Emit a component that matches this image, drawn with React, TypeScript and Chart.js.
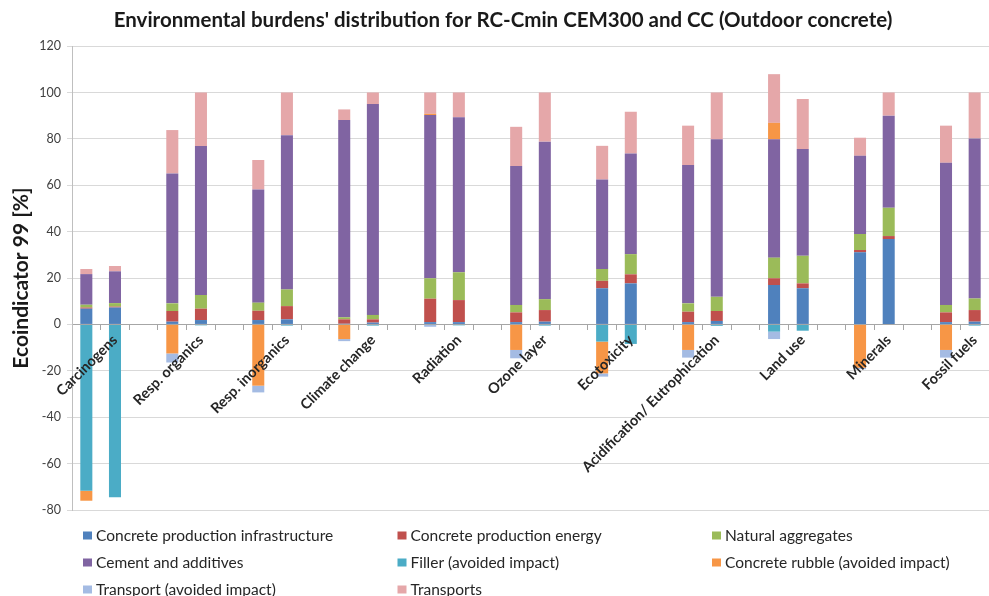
import React, { useEffect, useRef } from 'react';
import { Chart, registerables } from 'chart.js';

Chart.register(...registerables);

const chartTitle = "Environmental burdens' distribution for RC-Cmin CEM300 and CC (Outdoor concrete)";
const yAxisTitle = 'Ecoindicator 99 [%]';

const categories = [
  'Carcinogens',
  'Resp. organics',
  'Resp. inorganics',
  'Climate change',
  'Radiation',
  'Ozone layer',
  'Ecotoxicity',
  'Acidification/ Eutrophication',
  'Land use',
  'Minerals',
  'Fossil fuels',
];

const seriesNames = [
  'Concrete production infrastructure',
  'Concrete production energy',
  'Natural aggregates',
  'Cement and additives',
  'Filler (avoided impact)',
  'Concrete rubble (avoided impact)',
  'Transport (avoided impact)',
  'Transports',
];

const seriesColors = ['#4F81BD', '#C0504D', '#9BBB59', '#8064A2', '#4BACC6', '#F79646', '#A4BBE3', '#E5A7A9'];

// First bar of each pair: RC-Cmin CEM300, second bar: CC
const infraRC = [6.8, 1.2, 1.9, 0.3, 1.0, 1.0, 15.6, 1.0, 17.0, 31.1, 1.0];
const infraCC = [7.3, 1.9, 2.2, 0.8, 1.0, 1.2, 17.7, 1.5, 15.6, 36.8, 1.2];
const energyRC = [0.5, 4.6, 4.0, 1.9, 10.1, 4.2, 3.2, 4.5, 2.9, 1.0, 4.2];
const energyCC = [0.4, 4.9, 5.7, 1.4, 9.5, 5.0, 3.9, 4.3, 2.1, 1.3, 5.0];
const aggregatesRC = [1.2, 3.3, 3.5, 0.9, 8.8, 3.2, 5.1, 3.6, 8.9, 6.9, 3.2];
const aggregatesCC = [1.5, 5.9, 7.2, 1.9, 12.0, 4.7, 8.7, 6.1, 11.9, 12.2, 5.0];
const cementRC = [13.2, 56.0, 48.8, 85.0, 70.4, 59.9, 38.6, 59.6, 51.0, 33.7, 61.3];
const cementCC = [13.7, 64.2, 66.5, 90.9, 66.8, 67.9, 43.4, 67.9, 46.0, 39.7, 69.0];
const fillerRC = [-71.7, 0, 0, 0, 0, 0, -7.4, 0, -3.1, 0, 0];
const fillerCC = [-74.5, -0.4, -0.5, -0.5, -0.4, -0.5, -8.4, -0.6, -2.7, 0, -0.5];
const rubbleRC = [-4.3, -12.5, -26.4, -6.3, 0.5, -11.0, -13.7, -11.0, 7.1, -18.7, -11.0];
const rubbleCC = [0, 0, 0, 0, 0, 0, 0, 0, 0, 0, 0];
const transportAvoidedRC = [0, -3.9, -2.9, -0.9, -1.0, -3.6, -1.4, -3.3, -3.2, -0.6, -3.3];
const transportAvoidedCC = [0, 0, 0, 0, 0, 0, 0, 0, 0, 0, 0];
const transportsRC = [2.2, 18.7, 12.7, 4.6, 9.2, 16.9, 14.5, 17.0, 21.0, 7.8, 16.0];
const transportsCC = [2.3, 23.1, 18.4, 5.0, 10.7, 21.2, 18.0, 20.2, 21.6, 10.0, 19.8];

const yMin = -80;
const yMax = 120;
const yStep = 20;

const seriesPairs = [
  [infraRC, infraCC],
  [energyRC, energyCC],
  [aggregatesRC, aggregatesCC],
  [cementRC, cementCC],
  [fillerRC, fillerCC],
  [rubbleRC, rubbleCC],
  [transportAvoidedRC, transportAvoidedCC],
  [transportsRC, transportsCC],
];

// Slots: [RC bar, CC bar, gap] per category, without trailing gap
function interleave(rc: number[], cc: number[]): (number | null)[] {
  const out: (number | null)[] = [];
  rc.forEach((v, i) => {
    out.push(v, cc[i]);
    if (i < rc.length - 1) out.push(null);
  });
  return out;
}

const xLabels: string[] = [];
categories.forEach((c, i) => {
  xLabels.push('', c);
  if (i < categories.length - 1) xLabels.push('');
});

const FONT = 'Lato, "Open Sans", sans-serif';

const gridLegend = {
  id: 'gridLegend',
  afterDraw(chart: any) {
    const ctx = chart.ctx as CanvasRenderingContext2D;
    const area = chart.chartArea;
    const left = area.left + 11;
    const colW = 314.5;
    const top = area.bottom + 26;
    const rowH = 27;
    ctx.save();
    ctx.font = `15.5px ${FONT}`;
    ctx.textBaseline = 'middle';
    ctx.textAlign = 'left';
    chart.data.datasets.forEach((ds: any, i: number) => {
      const col = i % 3;
      const row = Math.floor(i / 3);
      const x = left + col * colW;
      const y = top + row * rowH;
      ctx.fillStyle = ds.backgroundColor;
      ctx.fillRect(x, y - 4.5, 9, 8);
      ctx.fillStyle = '#262626';
      ctx.fillText(ds.label, x + 13, y);
    });
    ctx.restore();
  },
};

export default function App() {
  const canvasRef = useRef<HTMLCanvasElement | null>(null);

  useEffect(() => {
    document.body.style.margin = '0';
    const canvas = canvasRef.current;
    if (!canvas) return;
    const chart = new Chart(canvas, {
      type: 'bar',
      data: {
        labels: xLabels,
        datasets: seriesNames.map((name, i) => ({
          label: name,
          data: interleave(seriesPairs[i][0], seriesPairs[i][1]),
          backgroundColor: seriesColors[i],
          borderWidth: 0,
          barPercentage: 0.42,
          categoryPercentage: 1,
        })),
      },
      options: {
        responsive: false,
        animation: false,
        layout: { padding: { left: 17, right: 0, top: 0, bottom: 86 } },
        plugins: {
          legend: { display: false },
          tooltip: { enabled: false },
          title: {
            display: true,
            text: chartTitle,
            color: '#1a1a1a',
            font: { family: FONT, size: 20.5, weight: 'bold' },
            padding: { top: 8, bottom: 13.5 },
          },
        },
        scales: {
          x: {
            stacked: true,
            position: { y: 0 } as any,
            grid: {
              display: true,
              drawOnChartArea: false,
              drawTicks: true,
              tickLength: 5,
              color: '#a6a6a6',
              offset: true,
            },
            border: { display: true, color: '#a6a6a6' },
            ticks: {
              z: 1,
              autoSkip: false,
              minRotation: 45,
              maxRotation: 45,
              padding: 2,
              color: '#262626',
              font: { family: FONT, size: 14.5, weight: 'bold' },
            },
          },
          y: {
            stacked: true,
            min: yMin,
            max: yMax,
            ticks: {
              stepSize: yStep,
              padding: 6,
              color: '#404040',
              font: { family: FONT, size: 12.5 },
            },
            grid: { color: '#d9d9d9', tickLength: 5, drawTicks: true },
            border: { color: '#bfbfbf' },
            title: {
              display: true,
              text: yAxisTitle,
              color: '#1a1a1a',
              font: { family: FONT, size: 21, weight: 'bold' },
              padding: { top: -8.5, bottom: 0 },
            },
            afterFit: (s: any) => {
              s.width = 55;
            },
          },
        },
      },
      plugins: [gridLegend],
    });
    return () => chart.destroy();
  }, []);

  return (
    <div style={{ width: 989, height: 596, position: 'relative' }}>
      <canvas ref={canvasRef} width={989} height={596} />
    </div>
  );
}
